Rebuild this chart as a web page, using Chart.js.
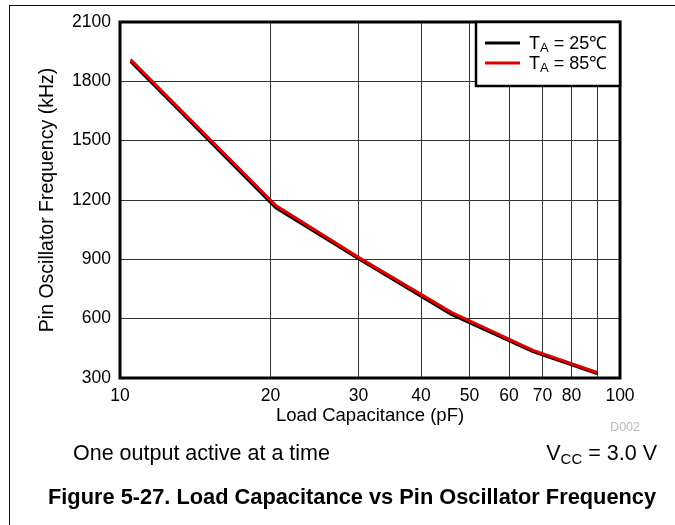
<!DOCTYPE html>
<html>
<head>
<meta charset="utf-8">
<script src="https://cdn.jsdelivr.net/npm/chart.js@4"></script>
<style>
  html, body { margin: 0; padding: 0; background: #fff; }
  body { width: 675px; height: 525px; position: relative; overflow: hidden; font-family: "Liberation Sans", Arial, sans-serif; }
  #frame { position: absolute; left: 9px; top: 5px; width: 700px; height: 600px; border-left: 1.5px solid #111; border-top: 1.5px solid #111; }
  #wrap { position: absolute; left: 0; top: 0; width: 675px; height: 525px; }
  .txt { position: absolute; white-space: nowrap; color: #000; line-height: 1; }
  #d002 { right: 35px; top: 421px; font-size: 12.5px; color: #b8b8b8; }
  #note1 { left: 73px; top: 443px; font-size: 21.5px; }
  #note2 { right: 18px; top: 443px; font-size: 21.5px; }
  #note2 sub { font-size: 15px; vertical-align: -4px; line-height: 0; }
  #caption { left: 48px; top: 486px; font-size: 21.8px; font-weight: bold; }
</style>
</head>
<body>
<div id="frame"></div>
<div id="wrap"><canvas id="c" width="675" height="525"></canvas></div>
<div class="txt" id="d002">D002</div>
<div class="txt" id="note1">One output active at a time</div>
<div class="txt" id="note2">V<sub>CC</sub> = 3.0 V</div>
<div class="txt" id="caption">Figure 5-27. Load Capacitance vs Pin Oscillator Frequency</div>
<script>
// ---- data ----
const capacitance = [10.5, 20.5, 30, 46, 67, 90];          // pF
const freq25C = [1900, 1160, 903, 622, 433, 322];          // kHz, TA = 25 C
const freq85C = [1910, 1172, 910, 632, 440, 328];          // kHz, TA = 85 C
const xTickValues = [10, 20, 30, 40, 50, 60, 70, 80, 90, 100];
const xTickLabels = ['10', '20', '30', '40', '50', '60', '70', '80', '', '100'];
const yTickValues = [300, 600, 900, 1200, 1500, 1800, 2100];
const yTickLabels = ['300', '600', '900', '1200', '1500', '1800', '2100'];
const legendLabels = [
  { sub: 'A', rest: ' = 25\u2103' },
  { sub: 'A', rest: ' = 85\u2103' }
];
const seriesColors = ['#000000', '#e00000'];

const FONT = '"Liberation Sans", Arial, sans-serif';

const toPoints = (xs, ys) => xs.map((x, i) => ({ x: x, y: ys[i] }));

const framePlugin = {
  id: 'framePlugin',
  afterDraw(chart) {
    const ctx = chart.ctx;
    const a = chart.chartArea;
    ctx.save();
    // plot border
    ctx.strokeStyle = '#000';
    ctx.lineWidth = 3;
    ctx.strokeRect(a.left, a.top, a.right - a.left, a.bottom - a.top);
    // legend box
    const bx = 476, by = a.top, bw = a.right - 476, bh = 64;
    ctx.fillStyle = '#fff';
    ctx.fillRect(bx, by, bw, bh);
    ctx.lineWidth = 2.5;
    ctx.strokeRect(bx, by, bw, bh);
    legendLabels.forEach((lab, i) => {
      const y = by + 21 + i * 20;
      ctx.strokeStyle = seriesColors[i];
      ctx.lineWidth = 3;
      ctx.beginPath();
      ctx.moveTo(bx + 9, y);
      ctx.lineTo(bx + 44, y);
      ctx.stroke();
      ctx.fillStyle = '#000';
      ctx.textBaseline = 'alphabetic';
      ctx.textAlign = 'left';
      ctx.font = '18px ' + FONT;
      let x = bx + 53;
      ctx.fillText('T', x, y + 6);
      x += ctx.measureText('T').width;
      ctx.font = '13px ' + FONT;
      ctx.fillText(lab.sub, x, y + 9);
      x += ctx.measureText(lab.sub).width;
      ctx.font = '18px ' + FONT;
      ctx.fillText(lab.rest, x, y + 6);
    });
    ctx.restore();
  }
};

new Chart(document.getElementById('c'), {
  type: 'scatter',
  data: {
    datasets: [
      {
        label: 'TA = 25C',
        data: toPoints(capacitance, freq25C),
        showLine: true,
        borderColor: seriesColors[0],
        backgroundColor: seriesColors[0],
        borderWidth: 3,
        pointRadius: 0,
        tension: 0,
        order: 2
      },
      {
        label: 'TA = 85C',
        data: toPoints(capacitance, freq85C),
        showLine: true,
        borderColor: seriesColors[1],
        backgroundColor: seriesColors[1],
        borderWidth: 3,
        pointRadius: 0,
        tension: 0,
        order: 1
      }
    ]
  },
  options: {
    responsive: false,
    animation: false,
    devicePixelRatio: 1,
    layout: { padding: { left: 0, top: 22, right: 55, bottom: 0 } },
    plugins: { legend: { display: false }, tooltip: { enabled: false } },
    scales: {
      x: {
        type: 'logarithmic',
        min: 10,
        max: 100,
        afterFit(scale) { scale.height = 147; },
        afterBuildTicks(scale) { scale.ticks = xTickValues.map(v => ({ value: v })); },
        ticks: {
          color: '#000',
          font: { family: FONT, size: 17.5 },
          padding: 8,
          maxRotation: 0,
          autoSkip: false,
          callback: (v) => { const i = xTickValues.indexOf(v); return i >= 0 ? xTickLabels[i] : ''; }
        },
        grid: { color: '#333', lineWidth: 1, drawTicks: false },
        border: { display: false },
        title: {
          display: true,
          text: 'Load Capacitance (pF)',
          color: '#000',
          font: { family: FONT, size: 18.5 },
          padding: { top: 0, bottom: 98 }
        }
      },
      y: {
        type: 'linear',
        min: 300,
        max: 2100,
        afterFit(scale) { scale.width = 120; },
        afterBuildTicks(scale) { scale.ticks = yTickValues.map(v => ({ value: v })); },
        ticks: {
          color: '#000',
          font: { family: FONT, size: 17.5 },
          padding: 9,
          callback: (v) => { const i = yTickValues.indexOf(v); return i >= 0 ? yTickLabels[i] : ''; }
        },
        grid: { color: '#333', lineWidth: 1, drawTicks: false },
        border: { display: false },
        title: {
          display: true,
          text: 'Pin Oscillator Frequency (kHz)',
          color: '#000',
          font: { family: FONT, size: 19.5 },
          padding: { top: 36, bottom: 0 }
        }
      }
    }
  },
  plugins: [framePlugin]
});
</script>
</body>
</html>
